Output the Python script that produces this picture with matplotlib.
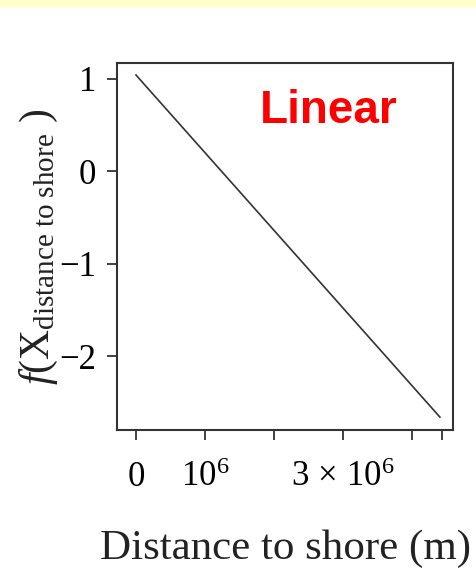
import matplotlib
matplotlib.use('Agg')
import matplotlib.pyplot as plt

# data: linear partial effect of distance to shore
dist = [0, 4.4e6]
effect = [1.04, -2.66]

xticks = [0, 1e6, 2e6, 3e6, 4e6, 4.43e6]
xticklabels = ['0', r'$10^6$', '', r'$3\,\times\,10^6$', '', '']
yticks = [1, 0, -1, -2]
yticklabels = ['1', '0', '\u22121', '\u22122']

plt.rcParams['font.family'] = 'Liberation Serif'
plt.rcParams['mathtext.fontset'] = 'custom'
plt.rcParams['mathtext.rm'] = 'Liberation Serif'
plt.rcParams['mathtext.it'] = 'Liberation Serif:italic'

fig = plt.figure(figsize=(4.76, 5.78), dpi=100)
# yellow band at the top of the slide
fig.patches.append(plt.Rectangle((0, 1 - 6 / 578), 1, 6 / 578, transform=fig.transFigure,
                                 color='#ffffc8', zorder=0))

ax = fig.add_axes([117 / 476, 1 - 430 / 578, 336 / 476, 367 / 578])
ax.plot(dist, effect, color='#333333', linewidth=1.2)
ax.set_xlim(-0.275e6, 4.59e6)
ax.set_ylim(-2.8, 1.17)

ax.set_xticks(xticks)
ax.set_xticklabels(xticklabels, fontsize=25)
ax.set_yticks(yticks)
ax.set_yticklabels(yticklabels, fontsize=25)
ax.tick_params(direction='out', length=7, width=1.3, color='#333333', pad=8)
ax.tick_params(axis='x', pad=15)
# the 3 x 10^6 label sits a little right of its tick
lab = ax.get_xticklabels()[3]
lab.set_x(3.2e6)

for s in ax.spines.values():
    s.set_linewidth(1.5)
    s.set_color('#333333')

ax.set_xlabel('Distance to shore (m)', fontsize=31, labelpad=26, color='#222222')
ax.set_ylabel(r'$f(\mathrm{X}_{\mathrm{distance\ to\ shore}}\ )$', fontsize=30,
              color='#222222')
ax.yaxis.set_label_coords(-0.17, 0.5)

ax.text(0.63, 0.87, 'Linear', transform=ax.transAxes, ha='center', va='center',
        color='red', fontsize=33, fontweight='bold', family='Liberation Sans')

fig.savefig('out.png', dpi=100)
